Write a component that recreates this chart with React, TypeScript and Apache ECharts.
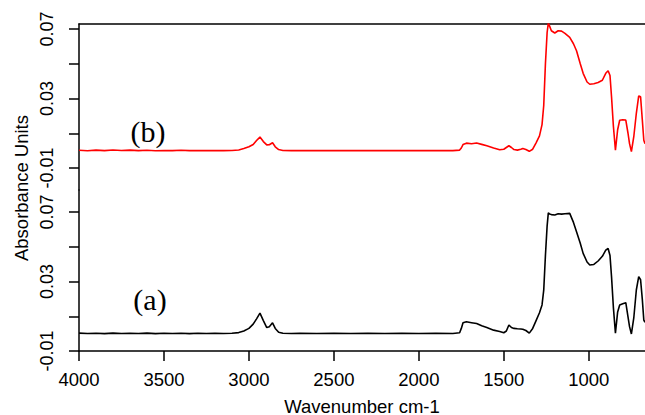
import React, { useEffect, useRef } from "react";
import * as echarts from "echarts";

// Wavenumbers (cm-1), shared by both spectra
const wavenumbers = [
  4000, 3950, 3900, 3850, 3800, 3750, 3700, 3650, 3600, 3550, 3500, 3450, 3400, 3350, 3300, 3250, 3200, 3150, 3100,
  3060, 3030, 3000, 2975, 2955, 2935, 2915, 2895, 2880, 2861, 2845, 2825, 2800, 2750, 2700, 2600, 2500, 2400, 2300,
  2200, 2100, 2000, 1900, 1800, 1760, 1750, 1740, 1720, 1690, 1660, 1630, 1600, 1560, 1524, 1500, 1485, 1470, 1455,
  1440, 1420, 1400, 1388, 1370, 1350, 1330, 1310, 1290, 1275, 1265, 1255, 1245, 1238, 1230, 1220, 1200, 1180, 1160,
  1140, 1112, 1090, 1072, 1050, 1033, 1010, 994, 970, 945, 920, 900, 886, 875, 866, 855, 843, 830, 818, 800, 782,
  769, 760, 749, 735, 720, 706, 695, 685, 676, 669,
];

// Spectrum (b) – red, upper panel
const spectrumB = [
  0.0002, -0.0001, 0.0003, 0.0, 0.0004, 0.0001, 0.0003, 0.0, 0.0002, -0.0001, 0.0001, 0.0, 0.0002, 0.0, 0.0001, 0.0,
  0.0001, 0.0, 0.0001, 0.0004, 0.0012, 0.0022, 0.0035, 0.0058, 0.0078, 0.0052, 0.0033, 0.0034, 0.0045, 0.0022,
  0.0006, 0.0001, 0.0, 0.0001, 0.0, 0.0001, 0.0, 0.0001, 0.0, 0.0001, 0.0, 0.0001, 0.0, 0.0003, 0.0015, 0.0035,
  0.0043, 0.004, 0.0044, 0.0036, 0.0028, 0.0015, 0.0005, 0.0008, 0.0018, 0.0028, 0.0018, 0.0006, 0.0003, 0.0008,
  0.0012, 0.0006, -0.0004, 0.0008, 0.0045, 0.0085, 0.015, 0.026, 0.05, 0.068, 0.0735, 0.0715, 0.069, 0.0677, 0.069,
  0.0688, 0.0675, 0.0652, 0.0615, 0.0575, 0.05, 0.0445, 0.0395, 0.0382, 0.0385, 0.0392, 0.0405, 0.0445, 0.046,
  0.0432, 0.031, 0.014, 0.0002, 0.012, 0.0175, 0.0178, 0.0176, 0.01, 0.004, -0.0006, 0.008, 0.0215, 0.0315, 0.031,
  0.018, 0.006, 0.004,
];

// Spectrum (a) – black, lower panel
const spectrumA = [
  0.0003, 0.0001, 0.0002, 0.0, 0.0003, 0.0001, 0.0002, 0.0001, 0.0003, 0.0, 0.0002, 0.0001, 0.0002, 0.0, 0.0002,
  0.0001, 0.0002, 0.0001, 0.0002, 0.0006, 0.0015, 0.003, 0.0055, 0.0085, 0.0118, 0.0075, 0.0035, 0.004, 0.0062,
  0.003, 0.0008, 0.0002, 0.0001, 0.0002, 0.0001, 0.0002, 0.0001, 0.0002, 0.0001, 0.0002, 0.0001, 0.0002, 0.0001,
  0.0005, 0.003, 0.0062, 0.0068, 0.0063, 0.0058, 0.0045, 0.0035, 0.002, 0.0012, 0.0005, 0.0015, 0.005, 0.0035,
  0.003, 0.0028, 0.0027, 0.0025, 0.0018, 0.0003, 0.003, 0.0075, 0.012, 0.0165, 0.025, 0.045, 0.062, 0.0695, 0.0688,
  0.0685, 0.0683, 0.069, 0.0688, 0.069, 0.0692, 0.064, 0.0587, 0.052, 0.0462, 0.0412, 0.0395, 0.0398, 0.0418,
  0.0445, 0.048, 0.049, 0.045, 0.0328, 0.015, 0.0002, 0.0125, 0.0165, 0.0172, 0.0178, 0.0097, 0.004, -0.0002, 0.009,
  0.0251, 0.0328, 0.031, 0.02, 0.0078, 0.0065,
];

const xTickValues = [4000, 3500, 3000, 2500, 2000, 1500, 1000];
const yTickValues = [-0.01, 0.01, 0.03, 0.05, 0.07];
const yLabelValues = [-0.01, 0.03, 0.07];

const FONT = "'Liberation Sans', Arial, sans-serif";
const SERIF = "'Liberation Serif', 'Times New Roman', serif";

export default function App() {
  const ref = useRef<HTMLDivElement>(null);

  useEffect(() => {
    document.body.style.margin = "0";
    if (!ref.current) return;
    const chart = echarts.init(ref.current, null, { renderer: "svg" });

    const pxPerUnit = 1737.5;
    const gridTopTop = 24;
    const gridSplit = 190;
    const gridBottom = 351;
    const topMax = -0.01 + (168 - gridTopTop) / pxPerUnit;
    const topMin = -0.01 - (gridSplit - 168) / pxPerUnit;
    const botMax = -0.01 + (gridBottom - gridSplit) / pxPerUnit;

    const axisLineStyle = { color: "#000", width: 1.5 };

    const yAxisCommon = (min: number, max: number, gridIndex: number) => ({
      type: "value",
      gridIndex,
      min,
      max,
      axisLine: { show: true, onZero: false, lineStyle: axisLineStyle },
      axisTick: { show: true, length: 10, customValues: yTickValues, lineStyle: axisLineStyle },
      splitLine: { show: false },
      axisLabel: {
        customValues: yLabelValues,
        rotate: 90,
        margin: 23,
        color: "#000",
        fontSize: 18,
        fontFamily: FONT,
        formatter: (v: number) => v.toFixed(2),
      },
    });

    chart.setOption({
      animation: false,
      backgroundColor: "#fff",
      grid: [
        { left: 79, right: 0, top: gridTopTop, height: gridSplit - gridTopTop },
        { left: 79, right: 0, top: gridSplit, height: gridBottom - gridSplit },
      ],
      xAxis: [
        {
          type: "value",
          gridIndex: 0,
          position: "top",
          inverse: true,
          min: 669,
          max: 4000,
          axisLine: { show: true, onZero: false, lineStyle: axisLineStyle },
          axisTick: { show: false },
          axisLabel: { show: false },
          splitLine: { show: false },
        },
        {
          type: "value",
          gridIndex: 1,
          position: "bottom",
          inverse: true,
          min: 669,
          max: 4000,
          axisLine: { show: true, onZero: false, lineStyle: axisLineStyle },
          axisTick: { show: true, length: 10, customValues: xTickValues, lineStyle: axisLineStyle },
          axisLabel: {
            customValues: xTickValues,
            margin: 19,
            color: "#000",
            fontSize: 18.5,
            fontFamily: FONT,
            formatter: (v: number) => String(v),
          },
          splitLine: { show: false },
        },
      ],
      yAxis: [yAxisCommon(topMin, topMax, 0), yAxisCommon(-0.01, botMax, 1)],
      graphic: [
        {
          type: "text",
          x: 21,
          y: 188,
          rotation: Math.PI / 2,
          style: {
            text: "Absorbance Units",
            fill: "#000",
            font: `18.5px ${FONT}`,
            align: "center",
            verticalAlign: "middle",
          },
        },
        {
          type: "text",
          x: 362,
          y: 406,
          style: {
            text: "Wavenumber cm-1",
            fill: "#000",
            font: `18.5px ${FONT}`,
            align: "center",
            verticalAlign: "middle",
          },
        },
        {
          type: "text",
          x: 148,
          y: 131,
          style: { text: "(b)", fill: "#000", font: `30px ${SERIF}`, align: "center", verticalAlign: "middle" },
        },
        {
          type: "text",
          x: 150,
          y: 299,
          style: { text: "(a)", fill: "#000", font: `30px ${SERIF}`, align: "center", verticalAlign: "middle" },
        },
      ],
      series: [
        {
          name: "(b)",
          type: "line",
          xAxisIndex: 0,
          yAxisIndex: 0,
          showSymbol: false,
          lineStyle: { color: "#ff0000", width: 1.6 },
          data: wavenumbers.map((w, i) => [w, spectrumB[i]]),
        },
        {
          name: "(a)",
          type: "line",
          xAxisIndex: 1,
          yAxisIndex: 1,
          showSymbol: false,
          lineStyle: { color: "#000000", width: 1.6 },
          data: wavenumbers.map((w, i) => [w, spectrumA[i]]),
        },
      ],
    });

    return () => chart.dispose();
  }, []);

  return <div ref={ref} style={{ width: 645, height: 415 }} />;
}
